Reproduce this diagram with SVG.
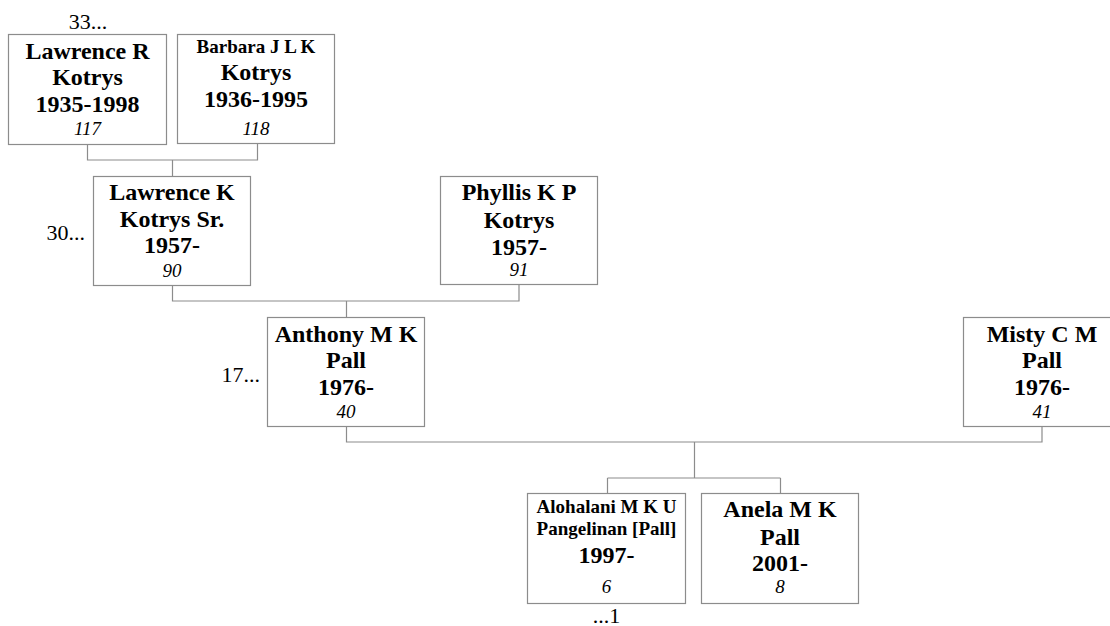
<svg xmlns="http://www.w3.org/2000/svg" width="1110" height="626" viewBox="0 0 1110 626">
<style>
.box{fill:#fff;stroke:#8c8c8c;stroke-width:1.2}
.c{fill:none;stroke:#8c8c8c;stroke-width:1.2}
text{font-family:"Liberation Serif","Times New Roman",serif;fill:#000;text-anchor:middle}
.n{font-weight:bold;font-size:24px}
.s{font-weight:bold;font-size:19px}
.i{font-style:italic;font-size:19px}
.l{font-size:22px}
</style>
<rect width="1110" height="626" fill="#fff"/>
<g id="connectors">
<path class="c" d="M87.5 144V160H257.5V144M172.5 160V176"/>
<path class="c" d="M172.5 285V301H519V285M346.5 301V317"/>
<path class="c" d="M346.5 427V442H1042V426M694.5 442V478"/>
<path class="c" d="M607.5 478H780.5M607.5 478V493M780.5 478V493"/>
</g>
<g id="n117">
<rect class="box" x="8.5" y="34.5" width="158" height="110"/>
<text class="n" x="87.5" y="59">Lawrence R</text>
<text class="n" x="87.5" y="85">Kotrys</text>
<text class="n" x="87.5" y="112">1935-1998</text>
<text class="i" x="87.5" y="135">117</text>
<text class="l" x="88" y="29">33...</text>
</g>
<g id="n118">
<rect class="box" x="177.5" y="34.5" width="157" height="109"/>
<text class="s" x="256" y="53">Barbara J L K</text>
<text class="n" x="256" y="80">Kotrys</text>
<text class="n" x="256" y="107">1936-1995</text>
<text class="i" x="256" y="135">118</text>
</g>
<g id="n90">
<rect class="box" x="93.5" y="176.5" width="157" height="109"/>
<text class="n" x="172" y="200">Lawrence K</text>
<text class="n" x="172" y="227">Kotrys Sr.</text>
<text class="n" x="172" y="253">1957-</text>
<text class="i" x="172" y="277">90</text>
<text class="l" x="85" y="240" style="text-anchor:end">30...</text>
</g>
<g id="n91">
<rect class="box" x="440.5" y="176.5" width="157" height="108"/>
<text class="n" x="519" y="200">Phyllis K P</text>
<text class="n" x="519" y="228">Kotrys</text>
<text class="n" x="519" y="255">1957-</text>
<text class="i" x="519" y="276">91</text>
</g>
<g id="n40">
<rect class="box" x="267.5" y="317.5" width="157" height="109"/>
<text class="n" x="346" y="342">Anthony M K</text>
<text class="n" x="346" y="368">Pall</text>
<text class="n" x="346" y="395">1976-</text>
<text class="i" x="346" y="418">40</text>
<text class="l" x="260" y="382" style="text-anchor:end">17...</text>
</g>
<g id="n41">
<rect class="box" x="963.5" y="317.5" width="158" height="109"/>
<text class="n" x="1042" y="342">Misty C M</text>
<text class="n" x="1042" y="368">Pall</text>
<text class="n" x="1042" y="395">1976-</text>
<text class="i" x="1042" y="418">41</text>
</g>
<g id="n6">
<rect class="box" x="527.5" y="493.5" width="158" height="110"/>
<text class="s" x="606.5" y="513">Alohalani M K U</text>
<text class="s" x="606.5" y="535">Pangelinan [Pall]</text>
<text class="n" x="606.5" y="563">1997-</text>
<text class="i" x="606.5" y="593">6</text>
<text class="l" x="606.5" y="623">...1</text>
</g>
<g id="n8">
<rect class="box" x="701.5" y="493.5" width="157" height="110"/>
<text class="n" x="780" y="517">Anela M K</text>
<text class="n" x="780" y="545">Pall</text>
<text class="n" x="780" y="571">2001-</text>
<text class="i" x="780" y="593">8</text>
</g>
</svg>
